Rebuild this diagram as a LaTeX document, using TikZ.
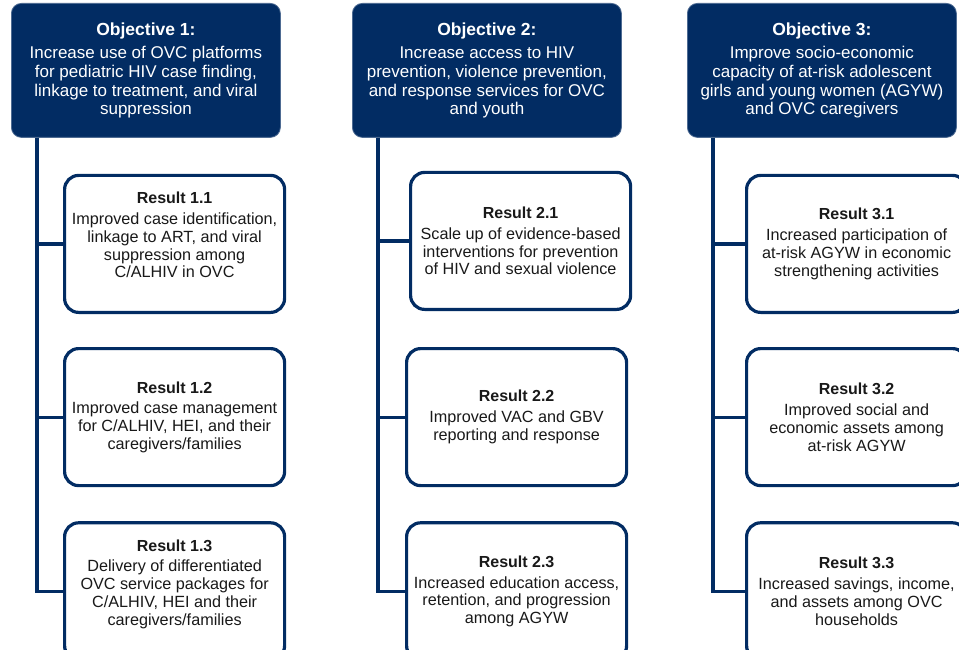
\documentclass[tikz,border=0pt]{standalone}
\usepackage{fontspec}
\setmainfont{Liberation Sans}
\usetikzlibrary{positioning}
\definecolor{ovcnavy}{RGB}{2,44,99}

\begin{document}
\begin{tikzpicture}[
                x=1pt, y=-1pt,
                objbox/.style={fill=ovcnavy, draw=ovcnavy!70, line width=0.8pt,
                    rounded corners=10pt, text=white, align=center,
                    minimum width=269pt, minimum height=134pt, inner sep=0pt,
                    anchor=north west, font=\fontsize{17}{18.7}\selectfont},
                resbox/.style={draw=ovcnavy, line width=3.2pt, fill=white,
                    rounded corners=14pt, text=black!90, align=center,
                    minimum width=220pt, minimum height=137pt, inner sep=0pt,
                    font=\fontsize{16.2}{17.8}\selectfont},
                link/.style={draw=ovcnavy, line width=3.2pt}
            ]
                \useasboundingbox (0,0) rectangle (959,650);
                % objectives
                \node (obj1) [objbox] at (11,3) {{\fontsize{17.5}{20}\selectfont\bfseries Objective 1:}\\[5pt]
                    Increase use of OVC platforms\\ for pediatric HIV case finding,\\ linkage to treatment, and viral\\ suppression};
                \node (obj2) [objbox] at (352,3) {{\fontsize{17.5}{20}\selectfont\bfseries Objective 2:}\\[5pt]
                    Increase access to HIV\\ prevention, violence prevention,\\ and response services for OVC\\ and youth};
                \node (obj3) [objbox] at (687,3) {{\fontsize{17.5}{20}\selectfont\bfseries Objective 3:}\\[5pt]
                    Improve socio-economic\\ capacity of at-risk adolescent\\ girls and young women (AGYW)\\ and OVC caregivers};
                % results
                \node (r11) [resbox, below right=36pt and 52pt of obj1.south west] {{\fontsize{16}{18}\selectfont\bfseries Result 1.1}\\[3pt]
                    Improved case identification,\\ linkage to ART, and viral\\ suppression among\\ C/ALHIV in OVC\\~};
                \node (r12) [resbox, below=33pt of r11] {{\fontsize{16}{18}\selectfont\bfseries Result 1.2}\\[3pt]
                    Improved case management\\ for C/ALHIV, HEI, and their\\ caregivers/families};
                \node (r13) [resbox, below=34pt of r12] {{\fontsize{16}{18}\selectfont\bfseries Result 1.3}\\[3pt]
                    Delivery of differentiated\\ OVC service packages for\\ C/ALHIV, HEI and their\\ caregivers/families\\~};
                \node (r21) [resbox, below right=33pt and 57pt of obj2.south west] {{\fontsize{16}{18}\selectfont\bfseries Result 2.1}\\[3pt]
                    Scale up of evidence-based\\ interventions for prevention\\ of HIV and sexual violence};
                \node (r22) [resbox, below=36pt of r21, xshift=-4pt] {{\fontsize{16}{18}\selectfont\bfseries Result 2.2}\\[3pt]
                    Improved VAC and GBV\\ reporting and response};
                \node (r23) [resbox, below=34pt of r22] {{\fontsize{16}{18}\selectfont\bfseries Result 2.3}\\[3pt]
                    Increased education access,\\ retention, and progression\\ among AGYW};
                \node (r31) [resbox, below right=36pt and 58pt of obj3.south west] {{\fontsize{16}{18}\selectfont\bfseries Result 3.1}\\[3pt]
                    Increased participation of\\ at-risk AGYW in economic\\ strengthening activities};
                \node (r32) [resbox, below=33pt of r31] {{\fontsize{16}{18}\selectfont\bfseries Result 3.2}\\[3pt]
                    Improved social and\\ economic assets among\\ at-risk AGYW};
                \node (r33) [resbox, below=34pt of r32] {{\fontsize{16}{18}\selectfont\bfseries Result 3.3}\\[3pt]
                    Increased savings, income,\\ and assets among OVC\\ households};
                % connectors
                \coordinate (t1) at ([xshift=26pt]obj1.south west);
                \coordinate (t2) at ([xshift=26pt]obj2.south west);
                \coordinate (t3) at ([xshift=26pt]obj3.south west);
                \draw[link] (t1) |- (r11.west);
                \draw[link] (t1) |- (r12.west);
                \draw[link] (t1) |- (r13.west);
                \draw[link] (t2) |- (r21.west);
                \draw[link] (t2) |- (r22.west);
                \draw[link] (t2) |- (r23.west);
                \draw[link] (t3) |- (r31.west);
                \draw[link] (t3) |- (r32.west);
                \draw[link] (t3) |- (r33.west);
            \end{tikzpicture}
\end{document}
